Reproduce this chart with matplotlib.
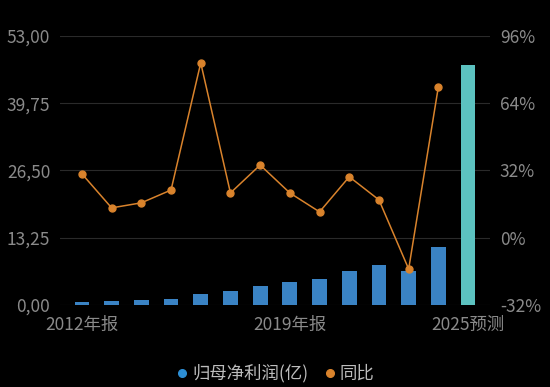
import matplotlib

matplotlib.use("Agg")
import matplotlib.pyplot as plt
from matplotlib.lines import Line2D

plt.rcParams["font.family"] = ["Noto Sans CJK SC", "DejaVu Sans"]

# data
years = ["2012年报", "2013", "2014", "2015", "2016", "2017", "2018",
         "2019年报", "2020", "2021", "2022", "2023", "2024", "2025预测"]
profit = [0.65, 0.8, 1.0, 1.2, 2.2, 2.75, 3.7, 4.5, 5.05, 6.6, 7.8, 6.6, 11.4, 47.2]
yoy = [30.4, 14.2, 16.6, 22.7, 83.2, 21.3, 34.6, 21.3, 12.3, 29.0, 18.0, -14.9, 71.8]

left_ticks = [0, 13.25, 26.5, 39.75, 53.0]
left_labels = ["0,00", "13,25", "26,50", "39,75", "53,00"]
right_ticks = [-32, 0, 32, 64, 96]
right_labels = ["-32%", "0%", "32%", "64%", "96%"]
shown_xlabels = {0: "2012年报", 7: "2019年报", 13: "2025预测"}

BLUE = "#3a83c4"
TEAL = "#5cc2c0"
ORANGE = "#d9832c"
GRID = "#2a2a2a"
TEXT = "#8a8a8a"


def main() -> None:
    fig = plt.figure(figsize=(5.5, 3.87), dpi=100, facecolor="black")
    ax = fig.add_axes([0.109, 0.212, 0.782, 0.695], facecolor="black")

    x = list(range(len(years)))
    colors = [BLUE] * (len(years) - 1) + [TEAL]
    ax.bar(x, profit, width=0.5, color=colors, zorder=2)

    ax.set_xlim(-0.74, len(years) - 1 + 0.74)
    ax.set_ylim(0, 53)
    ax.set_yticks(left_ticks)
    ax.set_yticklabels(left_labels)
    ax.set_xticks(list(shown_xlabels.keys()))
    ax.set_xticklabels(list(shown_xlabels.values()))
    ax.grid(axis="y", color=GRID, linewidth=0.8, zorder=0)
    ax.tick_params(axis="both", length=0, colors=TEXT, labelsize=12.5)
    ax.tick_params(axis="y", pad=7)
    ax.tick_params(axis="x", pad=8)
    for s in ax.spines.values():
        s.set_visible(False)

    ax2 = ax.twinx()
    ax2.plot(x[: len(yoy)], yoy, color=ORANGE, linewidth=1.1,
             marker="o", markersize=5, zorder=3)
    ax2.set_ylim(-32, 96)
    ax2.set_yticks(right_ticks)
    ax2.set_yticklabels(right_labels)
    ax2.tick_params(axis="y", length=0, colors=TEXT, labelsize=12.5, pad=7)
    for s in ax2.spines.values():
        s.set_visible(False)

    handles = [
        Line2D([], [], linestyle="none", marker="o", markersize=5.5,
               color="#2d8fd5", label="归母净利润(亿)"),
        Line2D([], [], linestyle="none", marker="o", markersize=5.5,
               color=ORANGE, label="同比"),
    ]
    leg = fig.legend(handles=handles, loc="center", bbox_to_anchor=(0.5, 0.035),
                     ncol=2, frameon=False, fontsize=12.5, handletextpad=0.2,
                     columnspacing=0.8, handlelength=0.8)
    for t in leg.get_texts():
        t.set_color("#bdbdbd")

    fig.savefig("out.png", dpi=100, facecolor="black")
    plt.close(fig)


if __name__ == "__main__":
    main()
